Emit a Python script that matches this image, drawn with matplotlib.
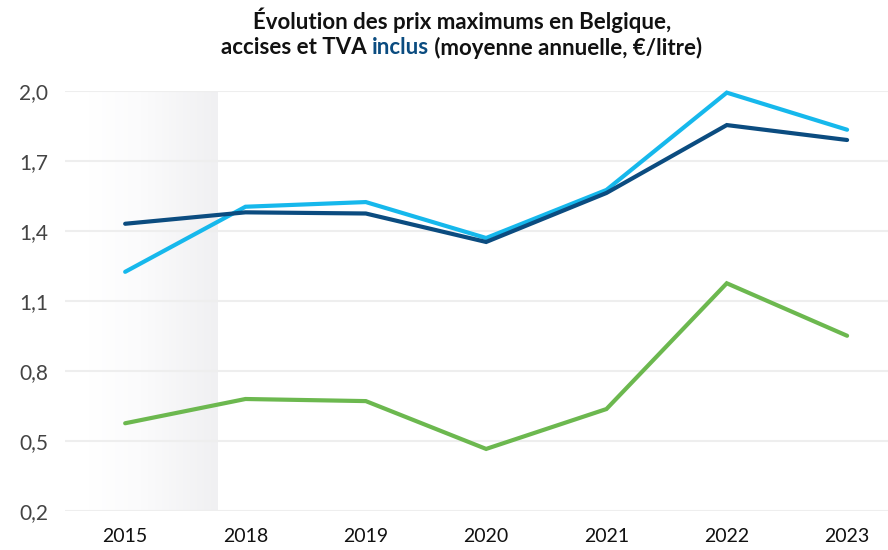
import numpy as np
import matplotlib
matplotlib.use("Agg")
import matplotlib.pyplot as plt
from matplotlib.colors import LinearSegmentedColormap

# data
years = ["2015", "2018", "2019", "2020", "2021", "2022", "2023"]
light_blue = [1.225, 1.504, 1.524, 1.370, 1.576, 1.993, 1.834]
dark_blue = [1.431, 1.480, 1.475, 1.353, 1.563, 1.854, 1.790]
green = [0.576, 0.680, 0.671, 0.466, 0.637, 1.176, 0.951]
y_ticks = [0.2, 0.5, 0.8, 1.1, 1.4, 1.7, 2.0]

plt.rcParams["font.family"] = ["Lato", "DejaVu Sans"]

fig = plt.figure(figsize=(8.88, 5.5), dpi=100)
ax = fig.add_axes([65 / 888, 39 / 550, 1 - 65 / 888, 420 / 550])

x = np.arange(len(years))
ax.set_xlim(-0.5, 6.34)
ax.set_ylim(0.2, 2.0)

# shaded gradient band over the first period
cmap = LinearSegmentedColormap.from_list(
    "band", [(0, "#ffffff"), (0.4, "#fbfbfc"), (1, "#f0f0f2")])
grad = np.linspace(0, 1, 256).reshape(1, -1)
ax.imshow(grad, cmap=cmap, aspect="auto", extent=(-0.3, 0.77, 0.2, 2.0),
          zorder=0, interpolation="bilinear")

for t in y_ticks:
    ax.axhline(t, color="#eeeeee", linewidth=1.5, zorder=1)

ax.plot(x, light_blue, color="#16b8ec", linewidth=3, zorder=3,
        solid_capstyle="round", solid_joinstyle="miter", clip_on=False)
ax.plot(x, dark_blue, color="#0b4c80", linewidth=3, zorder=4,
        solid_capstyle="round", solid_joinstyle="miter", clip_on=False)
ax.plot(x, green, color="#6cb84f", linewidth=3, zorder=3,
        solid_capstyle="round", solid_joinstyle="miter", clip_on=False)

ax.set_xticks(x)
ax.set_xticklabels(years, fontsize=14, color="#111111")
ax.set_yticks(y_ticks)
ax.set_yticklabels([f"{t:.1f}".replace(".", ",") for t in y_ticks],
                   fontsize=15, color="#444444")
ax.tick_params(length=0, axis="x", pad=12)
ax.tick_params(length=0, axis="y", pad=12)
for s in ax.spines.values():
    s.set_visible(False)

# title, second line with a coloured word
fig.text(0.52, 1 - 20 / 550, "Évolution des prix maximums en Belgique,",
         ha="center", va="center", fontsize=16, fontweight="bold", color="#111111")

parts = [("accises et TVA ", "#111111"), ("inclus", "#0b4c80"),
         (" (moyenne annuelle, €/litre)", "#111111")]
renderer = fig.canvas.get_renderer()
texts = []
widths = []
for s, c in parts:
    t = fig.text(0, 1 - 48 / 550, s, ha="left", va="center", fontsize=16,
                 fontweight="bold", color=c)
    texts.append(t)
    widths.append(t.get_window_extent(renderer).width)
total = sum(widths)
start = 0.52 * 888 - total / 2
for t, w in zip(texts, widths):
    t.set_x(start / 888)
    start += w

fig.savefig("out.png", dpi=100)
